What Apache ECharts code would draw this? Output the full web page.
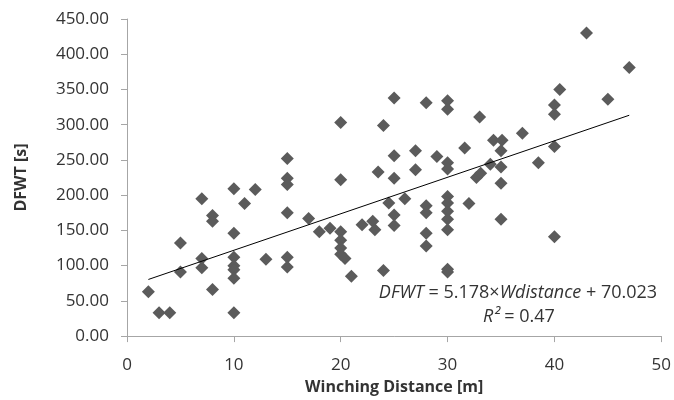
<!DOCTYPE html>
<html>
<head>
<meta charset="utf-8">
<script src="https://cdn.jsdelivr.net/npm/echarts@6/dist/echarts.min.js"></script>
<style>
  html, body { margin: 0; padding: 0; background: #fff; }
  #chart { width: 674px; height: 400px; }
</style>
</head>
<body>
<div id="chart"></div>
<script>
// winching distance [m] and DFWT [s]
const distance = [
  2, 3, 4, 5, 5, 7, 7, 7, 8, 8, 8, 10, 10, 10, 10, 10, 10, 10, 11, 12, 13,
  15, 15, 15, 15, 15, 15, 17, 18, 19, 20, 20, 20, 20, 20, 20, 20.4, 21, 22, 23, 23.2, 23.5,
  24, 24, 24.5, 25, 25, 25, 25, 25, 26, 27, 27, 28, 28, 28, 28, 28, 29,
  30, 30, 30, 30, 30, 30, 30, 30, 30, 30, 30, 32, 31.6, 32.7, 33.1, 33,
  34.3, 35.1, 35, 34, 35, 35, 35, 37, 38.5, 40, 40, 40, 40, 40.5, 43, 45, 47
];
const dfwt = [
  63, 33, 33, 132, 91, 195, 110, 97, 171, 163, 66, 209, 146, 112, 100, 94, 82, 33, 188, 208, 109,
  252, 224, 215, 175, 112, 98, 167, 148, 153, 303, 222, 148, 136, 125, 116, 110, 85, 158, 163, 151, 233,
  299, 93, 189, 338, 256, 224, 172, 157, 195, 263, 236, 331, 185, 175, 146, 128, 255,
  334, 322, 246, 237, 198, 189, 177, 166, 151, 95, 91, 188, 267, 225, 231, 311,
  278, 278, 263, 244, 240, 217, 166, 288, 246, 328, 315, 269, 141, 350, 430, 336, 381
];
// linear trend from the chart's equation
const slope = 5.178;
const intercept = 70.023;
const trendRange = [2, 47];

const points = distance.map((x, i) => [x, dfwt[i]]);
const trend = trendRange.map(x => [x, slope * x + intercept]);

const font = "'Open Sans', 'Liberation Sans', sans-serif";
const axisGray = '#a6a6a6';
const textColor = '#333';

let chart = echarts.init(document.getElementById('chart'));
chart.setOption({
  animation: false,
  grid: { left: 127, right: 10, top: 19, bottom: 63 },
  xAxis: {
    type: 'value',
    min: 0, max: 50, interval: 10,
    name: 'Winching Distance [m]',
    nameLocation: 'middle',
    nameGap: 36,
    nameTextStyle: { fontFamily: font, fontSize: 16, fontWeight: 'bold', color: textColor },
    axisLine: { show: true, lineStyle: { color: axisGray, width: 1 } },
    axisTick: { show: true, inside: false, length: 6, lineStyle: { color: axisGray } },
    axisLabel: { fontFamily: font, fontSize: 17, color: textColor, margin: 21 },
    splitLine: { show: false }
  },
  yAxis: {
    type: 'value',
    min: 0, max: 450, interval: 50,
    name: 'DFWT [s]',
    nameLocation: 'middle',
    nameGap: 98,
    nameRotate: 90,
    nameTextStyle: { fontFamily: font, fontSize: 16, fontWeight: 'bold', color: textColor },
    axisLine: { show: true, lineStyle: { color: axisGray, width: 1 } },
    axisTick: { show: true, inside: false, length: 6, lineStyle: { color: axisGray } },
    axisLabel: { fontFamily: font, fontSize: 17, color: textColor, margin: 18, formatter: v => v.toFixed(2) },
    splitLine: { show: false }
  },
  series: [
    {
      type: 'scatter',
      data: points,
      symbol: 'diamond',
      symbolSize: [13, 13],
      itemStyle: { color: '#5b5b5b', opacity: 1 },
      z: 2
    },
    {
      type: 'line',
      data: trend,
      symbol: 'none',
      lineStyle: { color: '#000', width: 1 },
      z: 3
    }
  ],
  graphic: [
    {
      type: 'text',
      x: 518,
      y: 293,
      style: {
        text: '{i|DFWT} = 5.178×{i|Wdistance} + 70.023',
        align: 'center',
        verticalAlign: 'middle',
        fontFamily: font,
        fontSize: 18,
        fill: textColor,
        rich: { i: { fontStyle: 'italic', fontFamily: font, fontSize: 18, color: textColor } }
      }
    },
    {
      type: 'text',
      x: 519,
      y: 317,
      style: {
        text: '{i|R²} = 0.47',
        align: 'center',
        verticalAlign: 'middle',
        fontFamily: font,
        fontSize: 18,
        fill: textColor,
        rich: { i: { fontStyle: 'italic', fontFamily: font, fontSize: 18, color: textColor } }
      }
    }
  ]
});
</script>
</body>
</html>
